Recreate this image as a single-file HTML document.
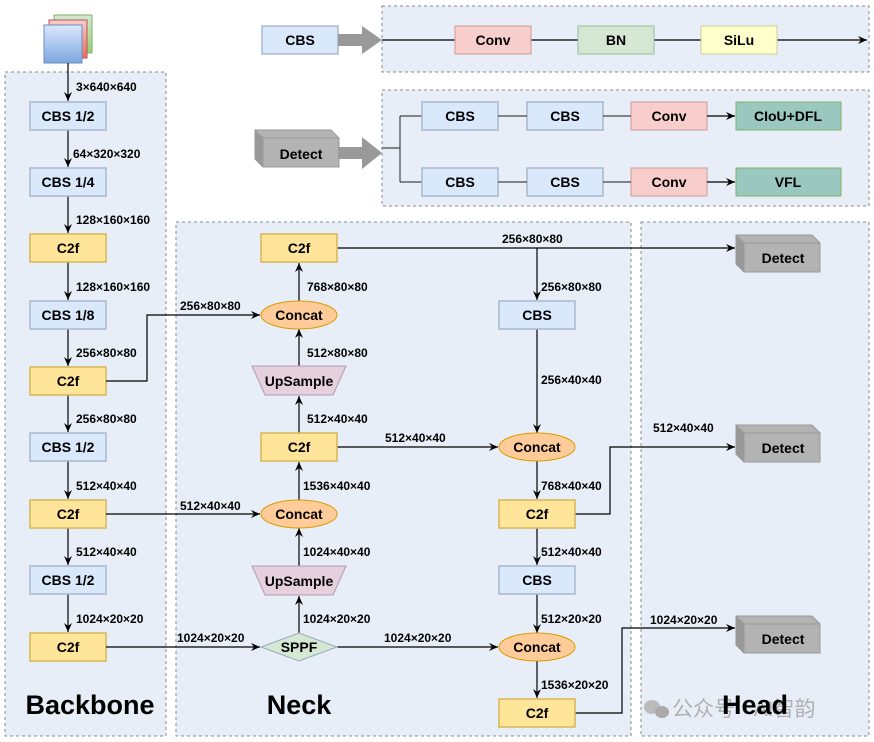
<!DOCTYPE html>
<html><head><meta charset="utf-8"><style>
html,body{margin:0;padding:0;background:#fff;}
svg{display:block;}
text{font-family:"Liberation Sans",Arial,sans-serif;font-weight:bold;}
.n{font-size:14px;text-anchor:middle;dominant-baseline:central;fill:#000;}
.l{font-size:12px;fill:#000;}
.cbs{fill:#dae8fc;stroke:#a8b8cc;stroke-width:1.5;}
.c2f{fill:#ffe599;stroke:#d6b656;stroke-width:1.5;}
.e{stroke:#000;stroke-width:1.2;fill:none;}
</style></head><body>
<svg width="874" height="742" viewBox="0 0 874 742" xmlns="http://www.w3.org/2000/svg">
<defs>
<marker id="a" markerWidth="10" markerHeight="10" refX="9" refY="5" orient="auto" markerUnits="userSpaceOnUse">
<path d="M0,1 L9,5 L0,9 L3,5 Z" fill="#000"/></marker>
<linearGradient id="bg1" x1="0" y1="0" x2="0" y2="1"><stop offset="0" stop-color="#dae8fc"/><stop offset="1" stop-color="#7ea6e0"/></linearGradient>
<linearGradient id="bg2" x1="0" y1="0" x2="0" y2="1"><stop offset="0" stop-color="#f8cecc"/><stop offset="1" stop-color="#ea6b66"/></linearGradient>
<linearGradient id="bg3" x1="0" y1="0" x2="0" y2="1"><stop offset="0" stop-color="#d5e8d4"/><stop offset="1" stop-color="#97d077"/></linearGradient>
<g id="det">
<path d="M0,0 L76,0 L84,8 L84,37 L8,37 L0,29 Z" fill="#b3b3b3" stroke="#999" stroke-width="1"/>
<path d="M0,0 L8,8 L84,8 M8,8 L8,37" fill="none" stroke="#999" stroke-width="1"/>
<path d="M0,0 L8,8 L8,37 L0,29 Z" fill="#999"/>
</g>
</defs>

<rect x="5" y="72" width="161" height="664" fill="#e8eef8" stroke="#888" stroke-dasharray="3,3"/>
<rect x="176" y="222" width="455" height="514" fill="#e8eef8" stroke="#888" stroke-dasharray="3,3"/>
<rect x="641" y="222" width="228" height="514" fill="#e8eef8" stroke="#888" stroke-dasharray="3,3"/>
<rect x="382" y="6" width="487" height="66" fill="#e8eef8" stroke="#888" stroke-dasharray="3,3"/>
<rect x="382" y="90" width="487" height="116" fill="#e8eef8" stroke="#888" stroke-dasharray="3,3"/>

<rect x="54" y="15" width="38" height="38" fill="url(#bg3)" stroke="#82b366"/>
<rect x="49" y="20" width="38" height="38" fill="url(#bg2)" stroke="#b85450"/>
<rect x="44" y="25" width="38" height="38" fill="url(#bg1)" stroke="#6c8ebf"/>

<rect class="cbs" x="262" y="26" width="76" height="28"/><text class="n" x="300" y="40">CBS</text>
<path d="M338,34 L362,34 L362,26 L382,40 L362,54 L362,46 L338,46 Z" fill="#999"/>
<line class="e" x1="382" y1="40" x2="867" y2="40" marker-end="url(#a)"/>
<rect x="455" y="26" width="76" height="28" fill="#f8cecc" stroke="#c99"/><text class="n" x="493" y="40">Conv</text>
<rect x="578" y="26" width="76" height="28" fill="#d5e8d4" stroke="#9b9"/><text class="n" x="616" y="40">BN</text>
<rect x="701" y="26" width="76" height="28" fill="#ffffcc" stroke="#cc9"/><text class="n" x="739" y="40">SiLu</text>

<use href="#det" x="255" y="130"/><text class="n" x="301" y="154">Detect</text>
<path d="M338,147 L362,147 L362,137 L382,153 L362,169 L362,159 L338,159 Z" fill="#999"/>
<path class="e" d="M382,148 L400,148 M400,116 L400,182 M400,116 L422,116 M400,182 L422,182" style="stroke:#444"/>
<rect class="cbs" x="422" y="102" width="76" height="28"/><text class="n" x="460" y="116">CBS</text>
<rect class="cbs" x="527" y="102" width="76" height="28"/><text class="n" x="565" y="116">CBS</text>
<rect x="631" y="102" width="76" height="28" fill="#f8cecc" stroke="#c99"/><text class="n" x="669" y="116">Conv</text>
<rect x="736" y="102" width="105" height="28" fill="#9ac7bf" stroke="#82b366"/><text class="n" x="788" y="116">CIoU+DFL</text>
<rect class="cbs" x="422" y="168" width="76" height="28"/><text class="n" x="460" y="182">CBS</text>
<rect class="cbs" x="527" y="168" width="76" height="28"/><text class="n" x="565" y="182">CBS</text>
<rect x="631" y="168" width="76" height="28" fill="#f8cecc" stroke="#c99"/><text class="n" x="669" y="182">Conv</text>
<rect x="736" y="168" width="105" height="28" fill="#9ac7bf" stroke="#82b366"/><text class="n" x="788" y="182">VFL</text>
<g class="e" style="stroke:#444">
<line x1="498" y1="116" x2="527" y2="116"/><line x1="603" y1="116" x2="631" y2="116"/>
<line x1="498" y1="182" x2="527" y2="182"/><line x1="603" y1="182" x2="631" y2="182"/>
</g>
<line class="e" x1="707" y1="116" x2="735" y2="116" marker-end="url(#a)"/>
<line class="e" x1="707" y1="182" x2="735" y2="182" marker-end="url(#a)"/>

<line class="e" x1="68" y1="63" x2="68" y2="101" marker-end="url(#a)"/>
<line class="e" x1="68" y1="130" x2="68" y2="167" marker-end="url(#a)"/>
<line class="e" x1="68" y1="196" x2="68" y2="233" marker-end="url(#a)"/>
<line class="e" x1="68" y1="262" x2="68" y2="300" marker-end="url(#a)"/>
<line class="e" x1="68" y1="329" x2="68" y2="366" marker-end="url(#a)"/>
<line class="e" x1="68" y1="395" x2="68" y2="432" marker-end="url(#a)"/>
<line class="e" x1="68" y1="461" x2="68" y2="499" marker-end="url(#a)"/>
<line class="e" x1="68" y1="528" x2="68" y2="565" marker-end="url(#a)"/>
<line class="e" x1="68" y1="594" x2="68" y2="632" marker-end="url(#a)"/>
<g class="l">
<text x="76" y="91">3×640×640</text>
<text x="73" y="158">64×320×320</text>
<text x="76" y="224">128×160×160</text>
<text x="76" y="291">128×160×160</text>
<text x="76" y="357">256×80×80</text>
<text x="76" y="423">256×80×80</text>
<text x="76" y="490">512×40×40</text>
<text x="76" y="556">512×40×40</text>
<text x="76" y="623">1024×20×20</text>
</g>
<rect class="cbs" x="30" y="102" width="76" height="28"/><text class="n" x="68" y="116">CBS 1/2</text>
<rect class="cbs" x="30" y="168" width="76" height="28"/><text class="n" x="68" y="182">CBS 1/4</text>
<rect class="c2f" x="30" y="234" width="76" height="28"/><text class="n" x="68" y="248">C2f</text>
<rect class="cbs" x="30" y="301" width="76" height="28"/><text class="n" x="68" y="315">CBS 1/8</text>
<rect class="c2f" x="30" y="367" width="76" height="28"/><text class="n" x="68" y="381">C2f</text>
<rect class="cbs" x="30" y="433" width="76" height="28"/><text class="n" x="68" y="447">CBS 1/2</text>
<rect class="c2f" x="30" y="500" width="76" height="28"/><text class="n" x="68" y="514">C2f</text>
<rect class="cbs" x="30" y="566" width="76" height="28"/><text class="n" x="68" y="580">CBS 1/2</text>
<rect class="c2f" x="30" y="633" width="76" height="28"/><text class="n" x="68" y="647">C2f</text>

<path class="e" d="M106,381 L147,381 L147,315 L260,315" marker-end="url(#a)"/>
<line class="e" x1="106" y1="514" x2="260" y2="514" marker-end="url(#a)"/>
<line class="e" x1="106" y1="647" x2="260" y2="647" marker-end="url(#a)"/>
<line class="e" x1="337" y1="647" x2="498" y2="647" marker-end="url(#a)"/>
<line class="e" x1="337" y1="447" x2="498" y2="447" marker-end="url(#a)"/>
<line class="e" x1="337" y1="248" x2="735" y2="248" marker-end="url(#a)"/>
<line class="e" x1="537" y1="248" x2="537" y2="300" marker-end="url(#a)"/>
<line class="e" x1="537" y1="329" x2="537" y2="433" marker-end="url(#a)"/>
<line class="e" x1="537" y1="460" x2="537" y2="499" marker-end="url(#a)"/>
<line class="e" x1="537" y1="528" x2="537" y2="565" marker-end="url(#a)"/>
<line class="e" x1="537" y1="594" x2="537" y2="633" marker-end="url(#a)"/>
<line class="e" x1="537" y1="660" x2="537" y2="698" marker-end="url(#a)"/>
<path class="e" d="M575,514 L610,514 L610,447 L735,447" marker-end="url(#a)"/>
<path class="e" d="M575,713 L622,713 L622,628 L735,628" marker-end="url(#a)"/>

<line class="e" x1="299" y1="302" x2="299" y2="263" marker-end="url(#a)"/>
<line class="e" x1="299" y1="366" x2="299" y2="329" marker-end="url(#a)"/>
<line class="e" x1="299" y1="433" x2="299" y2="396" marker-end="url(#a)"/>
<line class="e" x1="299" y1="501" x2="299" y2="462" marker-end="url(#a)"/>
<line class="e" x1="299" y1="566" x2="299" y2="528" marker-end="url(#a)"/>
<line class="e" x1="299" y1="633" x2="299" y2="596" marker-end="url(#a)"/>

<g class="l">
<text x="180" y="310">256×80×80</text>
<text x="180" y="510">512×40×40</text>
<text x="177" y="642">1024×20×20</text>
<text x="307" y="291">768×80×80</text>
<text x="307" y="357">512×80×80</text>
<text x="307" y="423">512×40×40</text>
<text x="303" y="490">1536×40×40</text>
<text x="303" y="556">1024×40×40</text>
<text x="303" y="623">1024×20×20</text>
<text x="385" y="442">512×40×40</text>
<text x="384" y="642">1024×20×20</text>
<text x="502" y="243">256×80×80</text>
<text x="541" y="291">256×80×80</text>
<text x="541" y="384">256×40×40</text>
<text x="541" y="490">768×40×40</text>
<text x="541" y="556">512×40×40</text>
<text x="541" y="623">512×20×20</text>
<text x="541" y="689">1536×20×20</text>
<text x="653" y="432">512×40×40</text>
<text x="650" y="624">1024×20×20</text>
</g>

<rect class="c2f" x="261" y="234" width="76" height="28"/><text class="n" x="299" y="248">C2f</text>
<ellipse cx="299" cy="315" rx="38" ry="14" fill="#ffcc99" stroke="#d79b00" stroke-width="1"/><text class="n" x="299" y="315">Concat</text>
<path d="M252,366 L346,366 L333,395 L265,395 Z" fill="#e6d0de" stroke="#b09cb0" stroke-width="1"/><text class="n" x="299" y="381">UpSample</text>
<rect class="c2f" x="261" y="433" width="76" height="28"/><text class="n" x="299" y="447">C2f</text>
<ellipse cx="299" cy="514" rx="38" ry="14" fill="#ffcc99" stroke="#d79b00" stroke-width="1"/><text class="n" x="299" y="514">Concat</text>
<path d="M252,566 L346,566 L333,595 L265,595 Z" fill="#e6d0de" stroke="#b09cb0" stroke-width="1"/><text class="n" x="299" y="581">UpSample</text>
<path d="M261,647 L299,633 L337,647 L299,661 Z" fill="#d5e8d4" stroke="#9ab" stroke-width="1"/><text class="n" x="299" y="647">SPPF</text>

<rect class="cbs" x="499" y="301" width="76" height="28"/><text class="n" x="537" y="315">CBS</text>
<ellipse cx="537" cy="447" rx="38" ry="14" fill="#ffcc99" stroke="#d79b00" stroke-width="1"/><text class="n" x="537" y="447">Concat</text>
<rect class="c2f" x="499" y="500" width="76" height="28"/><text class="n" x="537" y="514">C2f</text>
<rect class="cbs" x="499" y="566" width="76" height="28"/><text class="n" x="537" y="580">CBS</text>
<ellipse cx="537" cy="647" rx="38" ry="14" fill="#ffcc99" stroke="#d79b00" stroke-width="1"/><text class="n" x="537" y="647">Concat</text>
<rect class="c2f" x="499" y="699" width="76" height="28"/><text class="n" x="537" y="713">C2f</text>

<use href="#det" x="736" y="235"/><text class="n" x="783" y="258">Detect</text>
<use href="#det" x="736" y="425"/><text class="n" x="783" y="448">Detect</text>
<use href="#det" x="736" y="616"/><text class="n" x="783" y="639">Detect</text>

<text x="90" y="714" style="font-size:27px;text-anchor:middle">Backbone</text>
<text x="299" y="714" style="font-size:27px;text-anchor:middle">Neck</text>
<ellipse cx="652" cy="707" rx="8" ry="7" fill="#bbb"/><ellipse cx="662" cy="712" rx="7" ry="6" fill="#aaa"/>
<text x="672" y="716" style="font-size:21px;font-weight:normal;fill:#b0b0b0;font-family:'Liberation Sans','Noto Sans CJK SC',sans-serif">公众号 · AI智韵</text>
<text x="755" y="714" style="font-size:27px;text-anchor:middle">Head</text>
</svg>
</body></html>
